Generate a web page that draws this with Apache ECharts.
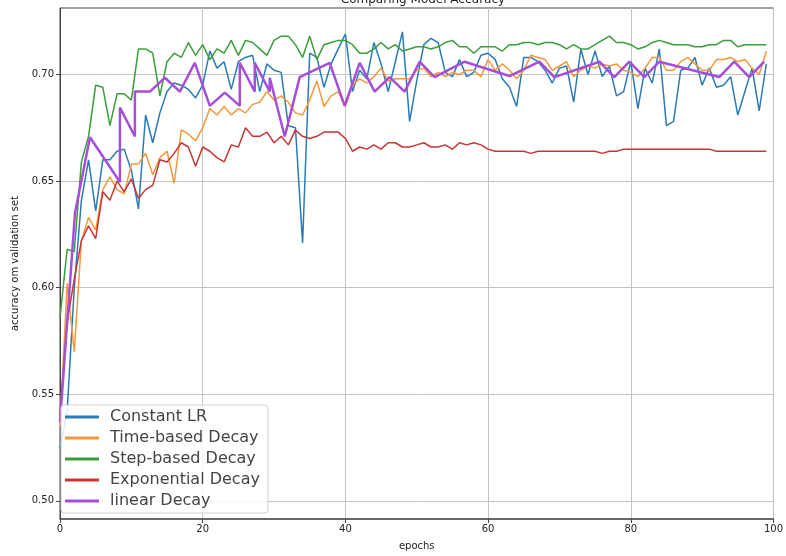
<!DOCTYPE html>
<html>
<head>
<meta charset="utf-8">
<script src="https://cdn.jsdelivr.net/npm/echarts@6/dist/echarts.min.js"></script>
<style>
  html, body { margin: 0; padding: 0; background: #fff; }
  #chart { width: 786px; height: 556px; }
</style>
</head>
<body>
<div id="chart"></div>
<script>
// values
const seriesNames = ["Constant LR", "Time-based Decay", "Step-based Decay", "Exponential Decay", "linear Decay"];
const yTicks = [0.5, 0.55, 0.6, 0.65, 0.7];
const xTicks = [0, 20, 40, 60, 80, 100];

const constantLR = [
  0.525, 0.542, 0.600, 0.641, 0.660, 0.636, 0.660, 0.660, 0.664, 0.665,
  0.655, 0.637, 0.681, 0.668, 0.682, 0.692, 0.696, 0.695, 0.693, 0.689,
  0.695, 0.711, 0.703, 0.706, 0.693, 0.706, 0.708, 0.709, 0.692, 0.705,
  0.702, 0.701, 0.676, 0.675, 0.621, 0.710, 0.708, 0.694, 0.705, 0.712,
  0.719, 0.692, 0.702, 0.698, 0.715, 0.705, 0.692, 0.706, 0.720, 0.678,
  0.697, 0.714, 0.717, 0.715, 0.701, 0.699, 0.707, 0.699, 0.701, 0.709,
  0.710, 0.707, 0.698, 0.694, 0.685, 0.708, 0.708, 0.706, 0.702, 0.696,
  0.703, 0.704, 0.687, 0.712, 0.700, 0.711, 0.699, 0.704, 0.690, 0.692,
  0.706, 0.684, 0.703, 0.696, 0.712, 0.676, 0.678, 0.702, 0.703, 0.708,
  0.695, 0.703, 0.694, 0.695, 0.699, 0.681, 0.692, 0.703, 0.683, 0.705
];
const timeBased = [
  0.535, 0.602, 0.570, 0.622, 0.633, 0.627, 0.646, 0.652, 0.646, 0.644,
  0.658, 0.658, 0.663, 0.653, 0.661, 0.664, 0.649, 0.674, 0.672, 0.669,
  0.675, 0.684, 0.681, 0.685, 0.681, 0.684, 0.682, 0.686, 0.687, 0.692,
  0.688, 0.690, 0.687, 0.682, 0.681, 0.688, 0.697, 0.685, 0.690, 0.692,
  0.685, 0.695, 0.698, 0.696, 0.699, 0.703, 0.697, 0.698, 0.698, 0.698,
  0.702, 0.703, 0.699, 0.701, 0.699, 0.701, 0.700, 0.702, 0.702, 0.699,
  0.707, 0.702, 0.705, 0.702, 0.698, 0.702, 0.709, 0.708, 0.707, 0.702,
  0.704, 0.706, 0.699, 0.702, 0.704, 0.703, 0.705, 0.704, 0.705, 0.702,
  0.701, 0.699, 0.703, 0.708, 0.708, 0.702, 0.702, 0.706, 0.708, 0.705,
  0.702, 0.702, 0.707, 0.707, 0.708, 0.706, 0.707, 0.703, 0.700, 0.711
];
const stepBased = [
  0.586, 0.618, 0.617, 0.659, 0.671, 0.695, 0.694, 0.676, 0.691, 0.691,
  0.688, 0.712, 0.712, 0.710, 0.690, 0.706, 0.710, 0.708, 0.715, 0.709,
  0.714, 0.707, 0.712, 0.710, 0.716, 0.709, 0.716, 0.715, 0.712, 0.709,
  0.716, 0.718, 0.718, 0.714, 0.708, 0.718, 0.707, 0.714, 0.715, 0.716,
  0.716, 0.714, 0.710, 0.710, 0.712, 0.715, 0.712, 0.714, 0.711, 0.712,
  0.713, 0.713, 0.712, 0.713, 0.715, 0.716, 0.713, 0.713, 0.710, 0.713,
  0.713, 0.713, 0.711, 0.714, 0.714, 0.715, 0.715, 0.714, 0.715, 0.715,
  0.714, 0.712, 0.714, 0.712, 0.712, 0.714, 0.716, 0.718, 0.715, 0.715,
  0.714, 0.712, 0.713, 0.715, 0.716, 0.715, 0.714, 0.714, 0.714, 0.713,
  0.713, 0.714, 0.714, 0.716, 0.716, 0.713, 0.714, 0.714, 0.714, 0.714
];
const exponential = [
  0.540, 0.584, 0.604, 0.622, 0.629, 0.623, 0.645, 0.641, 0.650, 0.645,
  0.651, 0.642, 0.646, 0.648, 0.660, 0.659, 0.663, 0.668, 0.666, 0.657,
  0.666, 0.664, 0.661, 0.659, 0.667, 0.666, 0.675, 0.671, 0.671, 0.673,
  0.668, 0.671, 0.667, 0.674, 0.671, 0.670, 0.671, 0.673, 0.673, 0.673,
  0.670, 0.664, 0.666, 0.665, 0.667, 0.665, 0.668, 0.668, 0.666, 0.666,
  0.667, 0.668, 0.666, 0.666, 0.667, 0.665, 0.668, 0.667, 0.668, 0.667,
  0.665, 0.664, 0.664, 0.664, 0.664, 0.664, 0.663, 0.664, 0.664, 0.664,
  0.664, 0.664, 0.664, 0.664, 0.664, 0.664, 0.663, 0.664, 0.664, 0.665,
  0.665, 0.665, 0.665, 0.665, 0.665, 0.665, 0.665, 0.665, 0.665, 0.665,
  0.665, 0.665, 0.664, 0.664, 0.664, 0.664, 0.664, 0.664, 0.664, 0.664
];
// linear decay is drawn at its own x positions (vertical jumps included)
const linearX = [
  0, 2.1, 4.2, 8.4, 8.4, 10.5, 10.5, 12.6, 14.7, 16.8,
  18.9, 21, 23.1, 25.2, 25.2, 27.3, 27.3, 29.4, 29.4, 31.5,
  33.6, 37.8, 39.9, 42, 44.1, 46.2, 48.3, 50.4, 52.5, 56.7,
  63, 67.2, 69.3, 75.6, 77.7, 79.8, 81.9, 84, 92.4, 94.5,
  96.6, 98.7
];
const linearY = [
  0.537, 0.635, 0.6706, 0.6496, 0.6845, 0.6709, 0.692, 0.692, 0.6985, 0.692,
  0.7055, 0.6853, 0.6915, 0.6853, 0.7055, 0.692, 0.7055, 0.692, 0.6985, 0.6709,
  0.6988, 0.7055, 0.6853, 0.7055, 0.692, 0.6988, 0.692, 0.706, 0.6988, 0.706,
  0.6993, 0.706, 0.6988, 0.706, 0.6988, 0.706, 0.6988, 0.706, 0.6988, 0.706,
  0.6988, 0.706
];

const colors = ["#2a7ab8", "#f5983a", "#3a9e3a", "#c93535", "#a54fd9"];
const allValues = [constantLR, timeBased, stepBased, exponential];

const chart = echarts.init(document.getElementById("chart"));

const series = allValues.map((vals, k) => ({
  name: seriesNames[k],
  type: "line",
  symbol: "none",
  data: vals.map((v, i) => [i, v]),
  lineStyle: { width: 1.5, color: colors[k] },
  itemStyle: { color: colors[k] },
  z: 2
}));
series.push({
  name: seriesNames[4],
  type: "line",
  symbol: "none",
  data: linearX.map((x, i) => [x, linearY[i]]),
  lineStyle: { width: 2.5, color: colors[4] },
  itemStyle: { color: colors[4] },
  z: 3
});

const option = {
  animation: false,
  backgroundColor: "#fff",
  textStyle: { fontFamily: "DejaVu Sans" },
  title: {
    text: "Comparing Model Accuracy",
    left: 418,
    top: -11,
    textAlign: "center",
    textStyle: { fontSize: 12, fontWeight: "normal", color: "#222" }
  },
  grid: {
    left: 60,
    right: 9,
    top: 8,
    bottom: 36,
    show: true,
    borderColor: "#444",
    borderWidth: 1
  },
  legend: {
    orient: "vertical",
    left: 61,
    top: 405,
    data: seriesNames,
    icon: "rect",
    itemWidth: 34,
    itemHeight: 3,
    itemGap: 3,
    padding: [3, 8, 3, 4],
    backgroundColor: "rgba(255,255,255,0.85)",
    borderColor: "#d0d0d0",
    borderWidth: 1,
    borderRadius: 3,
    textStyle: { fontSize: 16, lineHeight: 18, color: "#444", padding: [0, 0, 0, 6] }
  },
  xAxis: {
    type: "value",
    min: 0,
    max: 100,
    interval: 20,
    name: "epochs",
    nameLocation: "middle",
    nameGap: 22,
    nameTextStyle: { fontSize: 10, color: "#222" },
    axisLine: { show: true, lineStyle: { color: "#555", width: 1.5 } },
    axisTick: { show: true, length: 4, lineStyle: { color: "#444" } },
    axisLabel: { fontSize: 10, color: "#222", margin: 5 },
    splitLine: { show: true, lineStyle: { color: "#c4c4c4", width: 1 } }
  },
  yAxis: {
    type: "value",
    min: 0.4915,
    max: 0.7312,
    name: "accuracy om validation set",
    nameLocation: "middle",
    nameGap: 37,
    nameTextStyle: { fontSize: 10, color: "#222" },
    axisLine: { show: true, lineStyle: { color: "#444", width: 1 } },
    axisTick: { show: true, length: 4, customValues: yTicks, lineStyle: { color: "#444" } },
    axisLabel: {
      fontSize: 10,
      color: "#222",
      margin: 6,
      customValues: yTicks,
      formatter: v => Number(v).toFixed(2)
    },
    splitLine: { show: true, lineStyle: { color: "#c4c4c4", width: 1 } }
  },
  series: series
};

chart.setOption(option);
</script>
</body>
</html>
